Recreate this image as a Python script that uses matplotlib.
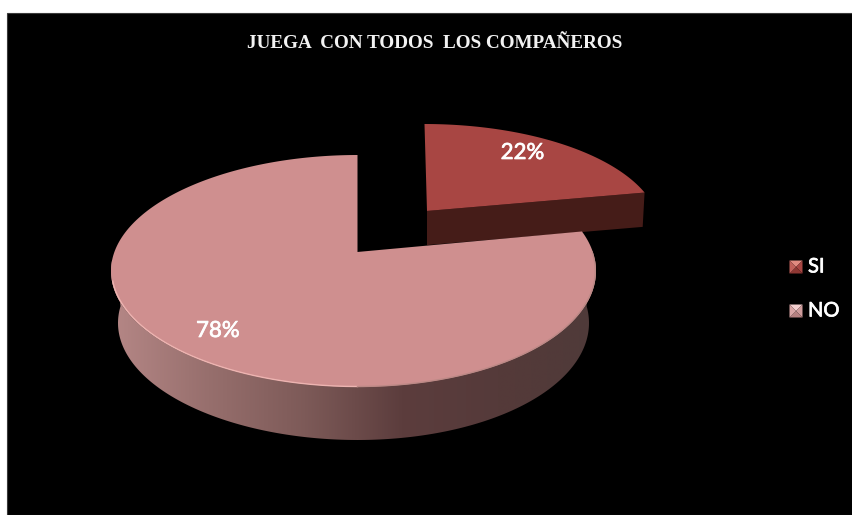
import numpy as np
import matplotlib
matplotlib.use("Agg")
import matplotlib.pyplot as plt
import matplotlib.patheffects as pe
from matplotlib.colors import LinearSegmentedColormap
from matplotlib.patches import Polygon, Rectangle

title = "JUEGA  CON TODOS  LOS COMPAÑEROS"
categories = ["SI", "NO"]
shares = [22, 78]
top_colors = ["#A84643", "#CF8F8F"]
marker_colors = [("#C0605A", "#E08A80", "#8E3733", "#A84643"),
                 ("#D9A5A5", "#F3CFCF", "#B58080", "#CF9C9C")]

W, H = 853, 515
TILT = 0.164  # how far the far half of the disc is foreshortened


def project(theta, radius, cx, cy, rx, ry, bow=0.0, shear=0.0):
    """Perspective view of a flat disc; theta is clockwise from 12 o'clock."""
    u = radius * np.sin(theta)
    v = radius * np.cos(theta)
    d = 1 + TILT * v
    xp = u * np.sqrt(1 - TILT**2) / d
    yp = (v + TILT) / d
    return cx + rx * xp + bow * (1 - xp**2) + shear * (yp - TILT), cy - ry * yp


def sector(a0, a1, **geom):
    th = np.linspace(a0, a1, 240)
    x, y = project(th, 1.0, **geom)
    ax_, ay_ = project(np.array([0.0]), 0.0, **geom)
    return np.r_[ax_, x], np.r_[ay_, y]


fig = plt.figure(figsize=(W / 100, H / 100), dpi=100, facecolor="white")
ax = fig.add_axes([0, 0, 1, 1])
ax.set_xlim(0, W)
ax.set_ylim(H, 0)
ax.axis("off")
ax.add_patch(Rectangle((7, 13), W - 7, H - 13, fc="black", ec="#3a3a3a", lw=0.8, zorder=0))

split = 2 * np.pi * shares[0] / sum(shares)

# Pulled-out SI slice
si_top = dict(cx=427, cy=228, rx=232, ry=104, shear=-3)
si_low = dict(cx=427, cy=262, rx=230, ry=103, shear=-3)
edge = np.array([split])
hub = np.array([0.0])
tx0, ty0 = project(hub, 0.0, **si_top)
tx1, ty1 = project(edge, 1.0, **si_top)
bx1, by1 = project(edge, 1.0, **si_low)
bx0, by0 = project(hub, 0.0, **si_low)
ax.add_patch(Polygon([(tx0[0], ty0[0]), (tx1[0], ty1[0]), (bx1[0], by1[0]), (bx0[0], by0[0])],
                     fc="#451C18", ec="none", zorder=1))
xs, ys = sector(0, split, **si_top)
ax.add_patch(Polygon(np.c_[xs, ys], fc=top_colors[0], ec="none", zorder=2))

# Wall of the NO slice, shaded from left to right
no_top = dict(cx=353.5, cy=271, rx=242.5, ry=116, bow=4)
no_low = dict(cx=353.5, cy=323, rx=235.5, ry=117, bow=4)
front = np.linspace(np.pi / 2 + 0.02, 3 * np.pi / 2 - 0.02, 300)
tx, ty = project(front, 1.0, **no_top)
bx, by = project(front, 1.0, **no_low)
wall = Polygon(np.r_[np.c_[tx, ty], np.c_[bx, by][::-1]], fc="none", ec="none", zorder=3)
ax.add_patch(wall)
shade = LinearSegmentedColormap.from_list(
    "wall", ["#4F3A39", "#553A3A", "#5C3D3D", "#7D5A58", "#976F6D", "#B58786"])
grad = ax.imshow(np.linspace(0, 1, 256)[None, :], cmap=shade, aspect="auto",
                 extent=(596, 111, 445, 260), zorder=3)
grad.set_clip_path(wall)
ax.set_xlim(0, W)
ax.set_ylim(H, 0)

# Top of the NO slice with its bevelled rim
xn, yn = sector(split, 2 * np.pi, **no_top)
ax.add_patch(Polygon(np.c_[xn, yn], fc=top_colors[1], ec="none", zorder=4))
rim_a = np.linspace(np.pi, 1.42 * np.pi, 160)
ax.plot(*project(rim_a, 0.997, **no_top), color="#EDB4B1", lw=1.0, zorder=5)
rim_b = np.linspace(np.pi / 2, np.pi, 160)
ax.plot(*project(rim_b, 0.997, **no_top), color="#BC8986", lw=1.0, zorder=5)

# Slightly thickened white lettering for the labels
heavier = [pe.withStroke(linewidth=0.5, foreground="white")]

# Percent labels
for x_lab, y_lab, value in zip((522.5, 218), (153, 331), shares):
    ax.text(x_lab, y_lab, f"{value}%", color="white", fontsize=16, family="Lato",
            ha="center", va="center", zorder=6, path_effects=heavier)

ax.text(434.5, 43, title, family="Liberation Serif", weight="bold", fontsize=13.8,
        color="#F2F2F2", ha="center", va="center", zorder=6)

# Legend with pyramid-shaded keys
half = 6.5
for yc, label, (c_l, c_t, c_b, c_r) in zip((267, 311), categories, marker_colors):
    xc = 796
    corners = [(xc - half, yc - half), (xc + half, yc - half),
               (xc + half, yc + half), (xc - half, yc + half)]
    for i, col in enumerate((c_t, c_r, c_b, c_l)):
        ax.add_patch(Polygon([corners[i], corners[(i + 1) % 4], (xc, yc)],
                             fc=col, ec="none", zorder=6))
    ax.text(808, yc, label, color="white", fontsize=14.5, family="Lato",
            ha="left", va="center", zorder=6, path_effects=heavier)

fig.savefig("out.png", dpi=100, facecolor="white")
